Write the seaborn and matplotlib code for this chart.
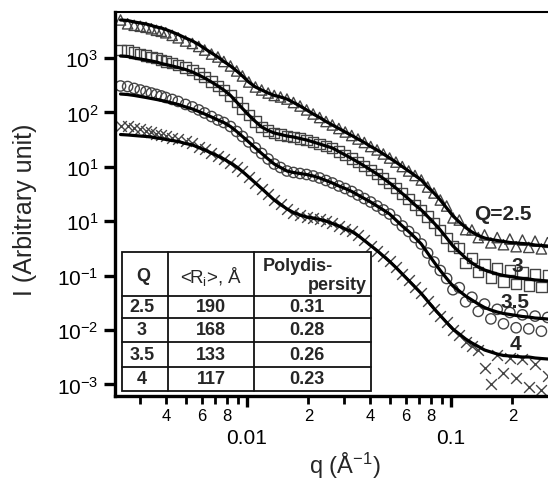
import numpy as np
import pandas as pd
import seaborn as sns
import matplotlib
matplotlib.use("Agg")
import matplotlib.pyplot as plt
from matplotlib.lines import Line2D
from matplotlib.patches import Rectangle
from matplotlib.ticker import FixedLocator, FixedFormatter, LogLocator, FuncFormatter, NullLocator

# scattering vector q (1/Angstrom), shared by all curves
q = [0.0024, 0.0026, 0.0028, 0.0030, 0.0032, 0.0034, 0.0036, 0.0038, 0.0040, 0.0043,
     0.0046, 0.0050, 0.0054, 0.0058, 0.0062, 0.0067, 0.0072, 0.0077, 0.0083, 0.0089,
     0.0095, 0.0102, 0.0110, 0.0118, 0.0127, 0.0136, 0.0146, 0.0157, 0.0169, 0.0182,
     0.0196, 0.0211, 0.0227, 0.0244, 0.0262, 0.0282, 0.0303, 0.0326, 0.0350, 0.0376,
     0.0404, 0.0434, 0.0466, 0.0500, 0.0537, 0.0577, 0.0620, 0.0666, 0.0715, 0.0768,
     0.0825, 0.0886, 0.0952, 0.1022, 0.1098, 0.1179, 0.1266, 0.1360, 0.1460, 0.1568,
     0.1684, 0.1808, 0.1942, 0.2085, 0.2239, 0.2405, 0.2582, 0.2773, 0.2978, 0.3198]

# measured intensities (markers)
I_25_data = [5000, 4250, 3990, 3830, 3670, 3450, 3230, 3100, 2910, 2610,
             2350, 2050, 1850, 1630, 1400, 1180, 1043, 862, 713, 577,
             467, 362, 293, 258, 227, 205, 192, 176, 152, 131,
             111, 93.5, 80.5, 68.0, 58.7, 50.6, 43.6, 37.6, 32.4, 28.0,
             23.6, 20.4, 17.2, 14.5, 12.2, 10.1, 8.37, 6.92, 5.72, 4.25,
             3.30, 2.45, 1.90, 1.15, 1.05, 0.70, 0.69, 0.50, 0.56, 0.40,
             0.50, 0.37, 0.47, 0.34, 0.45, 0.33, 0.43, 0.31, 0.41, 0.30]
I_3_data = [1400, 1374, 1262, 1184, 1112, 1043, 999, 919, 861, 809,
            744, 668, 602, 519, 447, 370, 306, 258, 205, 155,
            118, 89.5, 68.0, 53.9, 46.5, 41.8, 39.3, 36.8, 35.3, 33.1,
            31.1, 28.6, 26.3, 24.1, 22.2, 19.1, 16.5, 14.2, 12.2, 10.35,
            8.73, 7.38, 6.10, 5.04, 4.07, 3.23, 2.56, 1.99, 1.61, 1.22,
            0.927, 0.689, 0.491, 0.350, 0.32, 0.17, 0.21, 0.115, 0.16, 0.092,
            0.135, 0.078, 0.125, 0.070, 0.115, 0.066, 0.108, 0.062, 0.10, 0.06]
I_35_data = [306, 299, 276, 258, 242, 227, 214, 201, 188, 173,
             159, 140, 126, 111, 97.5, 84.0, 72.5, 65.2, 55.0, 44.6,
             36.1, 28.6, 22.2, 17.6, 13.9, 11.25, 9.71, 8.37, 7.86, 7.53,
             7.22, 6.78, 6.23, 5.60, 5.04, 4.44, 3.99, 3.52, 3.03, 2.61,
             2.25, 1.90, 1.61, 1.355, 1.05, 0.817, 0.647, 0.501, 0.381, 0.260,
             0.178, 0.124, 0.0885, 0.055, 0.060, 0.033, 0.040, 0.022, 0.030, 0.016,
             0.024, 0.013, 0.021, 0.011, 0.019, 0.0105, 0.018, 0.0095, 0.017, 0.009]
I_4_data = [57.4, 55.2, 51.7, 48.5, 45.6, 43.6, 40.9, 39.2, 36.9, 34.5,
            32.5, 29.2, 26.9, 23.6, 20.9, 17.9, 15.8, 13.9, 11.75, 9.91,
            8.20, 6.49, 5.04, 3.99, 3.10, 2.45, 2.03, 1.68, 1.445, 1.30,
            1.195, 1.145, 1.075, 1.01, 0.908, 0.817, 0.719, 0.647, 0.546, 0.442,
            0.357, 0.289, 0.229, 0.182, 0.141, 0.107, 0.0813, 0.0617, 0.0469, 0.0341,
            0.0248, 0.0180, 0.0140, 0.0098, 0.0080, 0.0060, 0.0050, 0.0042, 0.0020, 0.0010,
            0.0034, 0.0016, 0.0030, 0.0013, 0.0029, 0.0009, 0.0024, 0.0008, 0.0014, 0.0024]

# model fits (solid lines)
I_25_fit = [5000, 4890, 4590, 4400, 4220, 3960, 3715, 3560, 3340, 3005,
            2705, 2330, 2055, 1770, 1495, 1235, 1043, 862, 713, 577,
            467, 362, 293, 258, 227, 205, 192, 176, 152, 131,
            111, 93.5, 80.5, 68.0, 58.7, 50.6, 43.6, 37.6, 32.4, 28.0,
            23.6, 20.4, 17.2, 14.5, 12.2, 10.1, 8.37, 6.92, 5.72, 4.25,
            3.30, 2.45, 1.75, 1.25, 0.967, 0.766, 0.633, 0.546, 0.491, 0.461,
            0.442, 0.424, 0.406, 0.397, 0.389, 0.381, 0.365, 0.357, 0.350, 0.343]
I_3_fit = [1088, 1066, 1000, 958, 919, 881, 844, 792, 759, 713,
           669, 614, 553, 487, 429, 362, 306, 258, 205, 155,
           118, 89.5, 68.0, 53.9, 46.5, 41.8, 39.3, 36.8, 35.3, 33.1,
           31.1, 28.6, 26.3, 24.1, 22.2, 19.1, 16.5, 14.2, 12.2, 10.35,
           8.73, 7.38, 6.10, 5.04, 4.07, 3.23, 2.56, 1.99, 1.61, 1.22,
           0.927, 0.689, 0.491, 0.350, 0.272, 0.211, 0.171, 0.144, 0.127, 0.116,
           0.107, 0.1005, 0.0962, 0.0922, 0.0885, 0.0866, 0.0830, 0.0813, 0.0796, 0.0780]
I_35_fit = [218, 213, 205, 196, 188, 180, 173, 166, 159, 149,
            140, 126, 115.5, 104, 93.5, 82.3, 72.5, 65.2, 55.0, 44.6,
            36.1, 28.6, 22.2, 17.6, 13.9, 11.25, 9.71, 8.37, 7.86, 7.53,
            7.22, 6.78, 6.23, 5.60, 5.04, 4.44, 3.99, 3.52, 3.03, 2.61,
            2.25, 1.90, 1.61, 1.355, 1.05, 0.817, 0.647, 0.501, 0.381, 0.260,
            0.178, 0.124, 0.0885, 0.0644, 0.0521, 0.0422, 0.0356, 0.0301, 0.0259, 0.0233,
            0.0214, 0.0201, 0.0193, 0.0185, 0.0177, 0.0173, 0.0166, 0.0163, 0.0159, 0.0156]
I_4_fit = [39.2, 38.5, 37.6, 36.8, 36.1, 35.3, 33.8, 33.1, 31.8, 30.4,
           29.2, 26.8, 25.2, 22.6, 20.4, 17.9, 15.8, 13.9, 11.75, 9.91,
           8.20, 6.49, 5.04, 3.99, 3.10, 2.45, 2.03, 1.68, 1.445, 1.30,
           1.195, 1.145, 1.075, 1.01, 0.908, 0.817, 0.719, 0.647, 0.546, 0.442,
           0.357, 0.289, 0.229, 0.182, 0.141, 0.107, 0.0813, 0.0617, 0.0469, 0.0341,
           0.0248, 0.0185, 0.0137, 0.0104, 0.00844, 0.00684, 0.00577, 0.00498, 0.00429, 0.00394,
           0.00362, 0.00340, 0.00333, 0.00326, 0.00319, 0.00319, 0.00306, 0.00299, 0.00293, 0.00293]

curve_labels = ["Q=2.5", "3", "3.5", "4"]
markers = ["^", "s", "o", "x"]

ytick_vals = [1e3, 1e2, 1e1, 1e0, 1e-1, 1e-2, 1e-3]
ytick_labels = [r"$10^{3}$", r"$10^{2}$", r"$10^{1}$", r"$10^{1}$",
                r"$10^{-1}$", r"$10^{-2}$", r"$10^{-3}$"]
xtick_vals = [0.01, 0.1]
xtick_labels = ["0.01", "0.1"]

table_header = ["Q", r"<R$_\mathregular{i}$>, Å", "Polydis-", "persity"]
table_Q = ["2.5", "3", "3.5", "4"]
table_R = ["190", "168", "133", "117"]
table_poly = ["0.31", "0.28", "0.26", "0.23"]

sns.set_style("ticks")
plt.rcParams["font.family"] = ["Liberation Sans", "DejaVu Sans"]
plt.rcParams["mathtext.fontset"] = "custom"
plt.rcParams["mathtext.rm"] = "Liberation Sans"
plt.rcParams["mathtext.it"] = "Liberation Sans:italic"
plt.rcParams["mathtext.bf"] = "Liberation Sans:bold"

W, H = 548, 481
fig = plt.figure(figsize=(W / 100, H / 100), dpi=100)
ax = fig.add_axes([115 / W, 1 - 397 / H, 433 / W, 384 / H])
ax.set_xscale("log")
ax.set_yscale("log")
ax.set_xlim(0.002255, 0.2988)
ax.set_ylim(6.12e-4, 7008)

gray = "#444444"
data_sets = [I_25_data, I_3_data, I_35_data, I_4_data]
fit_sets = [I_25_fit, I_3_fit, I_35_fit, I_4_fit]

for vals, m in zip(data_sets, markers):
    if m == "x":
        sns.scatterplot(x=q, y=vals, marker="x", s=60, color=gray, linewidth=1.0,
                        ax=ax, legend=False, zorder=2)
    else:
        sns.scatterplot(x=q, y=vals, marker=m, s=55, facecolor="none", edgecolor=gray,
                        linewidth=1.0, ax=ax, legend=False, zorder=2)

for vals in fit_sets:
    sns.lineplot(x=q, y=vals, color="black", lw=2.3, ax=ax, legend=False, zorder=3)

# axes and ticks
ax.yaxis.set_major_locator(FixedLocator(ytick_vals))
ax.yaxis.set_major_formatter(FixedFormatter(ytick_labels))
ax.yaxis.set_minor_locator(NullLocator())
ax.xaxis.set_major_locator(FixedLocator(xtick_vals))
ax.xaxis.set_major_formatter(FixedFormatter(xtick_labels))
ax.xaxis.set_minor_locator(LogLocator(base=10, subs=np.arange(2, 10), numticks=50))


def minor_fmt(v, pos):
    m = v / 10 ** np.floor(np.log10(v) + 1e-9)
    k = int(round(m))
    return str(k) if k in (2, 4, 6, 8) else ""


ax.xaxis.set_minor_formatter(FuncFormatter(minor_fmt))
ax.tick_params(axis="x", which="major", direction="out", length=8, width=2.4,
               labelsize=15, pad=15, colors="black")
ax.tick_params(axis="x", which="minor", direction="out", length=5.5, width=2.0,
               labelsize=12, pad=3, colors="black")
ax.tick_params(axis="y", which="major", direction="out", length=8, width=2.4,
               labelsize=15, pad=4, colors="black")

for side in ["left", "bottom"]:
    ax.spines[side].set_linewidth(2.4)
    ax.spines[side].set_color("black")
ax.spines["top"].set_linewidth(1.5)
ax.spines["top"].set_color("black")
ax.spines["right"].set_visible(False)

ax.set_xlabel(r"q (Å$^{-1}$)", fontsize=17)
ax.set_ylabel("I (Arbitrary unit)", fontsize=18)
ax.xaxis.set_label_coords((345 - 115) / 433, (397 - 451) / 384)
ax.yaxis.set_label_coords((37 - 115) / 433, (397 - 210) / 384)


def fx(px):
    return px / W


def fy(py):
    return 1 - py / H


# curve labels
label_pos = [(503, 215), (517, 266), (515, 302), (515, 345)]
for txt, (px, py) in zip(curve_labels, label_pos):
    fig.text(fx(px), fy(py), txt, ha="center", va="center", fontsize=15,
             fontweight="bold", zorder=5)

# inset table
tl, tr, tt, tb = 122, 371, 253, 392
col_x = [168, 254]
row_y = [297, 319, 343, 368]
fig.add_artist(Rectangle((fx(tl), fy(tb)), fx(tr) - fx(tl), fy(tt) - fy(tb),
                         transform=fig.transFigure, facecolor="white",
                         edgecolor="#111111", lw=1.3, zorder=6))
for cx in col_x:
    fig.add_artist(Line2D([fx(cx), fx(cx)], [fy(tt), fy(tb)], transform=fig.transFigure,
                          color="#111111", lw=1.3, zorder=7))
for ry in row_y:
    fig.add_artist(Line2D([fx(tl), fx(tr)], [fy(ry), fy(ry)], transform=fig.transFigure,
                          color="#111111", lw=1.3, zorder=7))

fig.text(fx(143), fy(277), table_header[0], ha="center", va="center", fontsize=13,
         fontweight="bold", zorder=8)
fig.text(fx(211), fy(277), table_header[1], ha="center", va="center", fontsize=13.5,
         zorder=8)
fig.text(fx(263), fy(267), table_header[2], ha="left", va="center", fontsize=13,
         fontweight="bold", zorder=8)
fig.text(fx(367), fy(286), table_header[3], ha="right", va="center", fontsize=13,
         fontweight="bold", zorder=8)

row_centers = [308, 331, 355.5, 380]
for qv, rv, pv, ry in zip(table_Q, table_R, table_poly, row_centers):
    fig.text(fx(142), fy(ry), qv, ha="center", va="center", fontsize=13,
             fontweight="bold", zorder=8)
    fig.text(fx(211), fy(ry), rv, ha="center", va="center", fontsize=13,
             fontweight="bold", zorder=8)
    fig.text(fx(307), fy(ry), pv, ha="center", va="center", fontsize=13,
             fontweight="bold", zorder=8)

fig.savefig("out.png", dpi=100)
